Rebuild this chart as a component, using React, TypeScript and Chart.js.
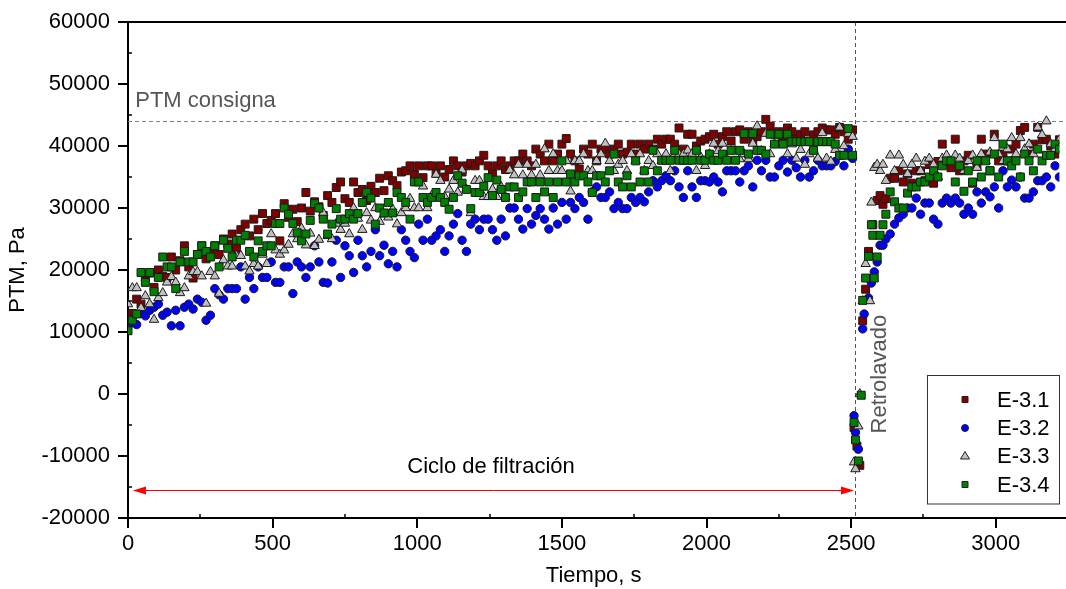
import React, { useEffect, useRef } from 'react';
import { Chart, registerables } from 'chart.js';

Chart.register(...registerables);

// ---------- DATA ----------
const SERIES_NAMES = ['E-3.1', 'E-3.2', 'E-3.3', 'E-3.4'];

// filtration cycle sampling times (s)
const FILT_TIME = [
  0, 15, 30, 45, 60, 75, 90, 105, 120, 135,
  150, 165, 180, 195, 210, 225, 240, 255, 270, 285,
  300, 315, 330, 345, 360, 375, 390, 405, 420, 435,
  450, 465, 480, 495, 510, 525, 540, 555, 570, 585,
  600, 615, 630, 645, 660, 675, 690, 705, 720, 735,
  750, 765, 780, 795, 810, 825, 840, 855, 870, 885,
  900, 915, 930, 945, 960, 975, 990, 1005, 1020, 1035,
  1050, 1065, 1080, 1095, 1110, 1125, 1140, 1155, 1170, 1185,
  1200, 1215, 1230, 1245, 1260, 1275, 1290, 1305, 1320, 1335,
  1350, 1365, 1380, 1395, 1410, 1425, 1440, 1455, 1470, 1485,
  1500, 1515, 1530, 1545, 1560, 1575, 1590, 1605, 1620, 1635,
  1650, 1665, 1680, 1695, 1710, 1725, 1740, 1755, 1770, 1785,
  1800, 1815, 1830, 1845, 1860, 1875, 1890, 1905, 1920, 1935,
  1950, 1965, 1980, 1995, 2010, 2025, 2040, 2055, 2070, 2085,
  2100, 2115, 2130, 2145, 2160, 2175, 2190, 2205, 2220, 2235,
  2250, 2265, 2280, 2295, 2310, 2325, 2340, 2355, 2370, 2385,
  2400, 2415, 2430, 2445, 2460, 2475, 2490, 2505,
];

const E31_FILT = [
  11500, 13000, 15300, 14500, 18800, 19500, 17200, 20000, 19000, 18800,
  22100, 20000, 21500, 23900, 20500, 18700, 22500, 23900, 21800, 22800,
  23900, 22500, 25000, 24200, 25800, 23500, 26500, 27400, 25500, 28200,
  26500, 29100, 27500, 28000, 29100, 24700, 30700, 28500, 29800, 27800,
  30000, 32500, 29500, 31000, 30200, 28800, 32000, 30900, 33300, 34200,
  31500, 30900, 34200, 32500, 33000, 31200, 33500, 32500, 34800, 32800,
  35200, 34400, 33600, 35800, 36000, 36800, 35400, 36800, 34900, 36800,
  36800, 35600, 36800, 35000, 36200, 37600, 36800, 35800, 36800, 37200,
  36800, 37600, 38500, 36800, 35500, 36800, 37600, 36200, 36800, 37600,
  37600, 38700, 37600, 36800, 39500, 38700, 37600, 40300, 37600, 38700,
  40300, 41200, 38700, 37600, 36300, 39500, 38700, 40300, 37600, 39500,
  39500, 38700, 39500, 40300, 38700, 39000, 40300, 38700, 40300, 39500,
  40300, 39500, 41100, 40300, 41100, 41100, 40300, 42900, 39500, 41900,
  41900, 40000, 40800, 41100, 41500, 41900, 40300, 41500, 42300, 40800,
  42300, 42600, 41100, 42300, 40800, 41500, 42300, 44300, 43200, 41900,
  42300, 41500, 42900, 42300, 41100, 41900, 42300, 40800, 41800, 42300,
  42900, 42600, 42600, 41900, 43000, 42300, 41100, 42600,
];

const E32_FILT = [
  12000, 11500, 11200, 13000, 12600, 13500, 14000, 14500, 12700, 13200,
  11000, 13500, 11000, 14000, 14500, 13700, 15300, 14800, 11900, 12700,
  17000, 16000, 15300, 17000, 17000, 17000, 20500, 15300, 18800, 17000,
  20500, 18800, 18800, 21300, 18000, 18000, 20500, 20500, 16200, 21300,
  20500, 18800, 20500, 23900, 21300, 18000, 17900, 21300, 24800, 18800,
  23900, 22300, 19600, 24800, 22300, 20500, 23000, 26500, 22300, 24000,
  21000, 23000, 20500, 26500, 24800, 23000, 22000, 27400, 24800, 28200,
  24800, 25500, 26500, 23000, 25500, 27400, 29100, 24800, 23000, 27400,
  28200, 26500, 28200, 28200, 26500, 24800, 28200, 25500, 30000, 30000,
  28200, 26600, 29900, 27400, 28800, 29900, 28200, 26600, 30000, 27400,
  30900, 28200, 30900, 29900, 31700, 30900, 28200, 32600, 33400, 31700,
  31700, 32600, 29900, 30900, 29900, 29900, 31700, 30900, 31700, 31000,
  32600, 34400, 33400, 34400, 35200, 34400, 36000, 33400, 31700, 36000,
  33400, 31700, 34400, 34400, 34200, 35000, 34200, 32600, 36000, 36000,
  36000, 34200, 36000, 36800, 33400, 37700, 36000, 37700, 35000, 35000,
  36800, 37700, 35800, 37700, 36500, 35000, 37700, 35000, 36000, 37700,
  36800, 36800, 36800, 37500, 38500, 36800, 39500, 38000,
];

const E33_FILT = [
  14500, 17100, 17100, 13900, 15800, 14500, 12000, 15500, 16300, 18000,
  18900, 18000, 16300, 17100, 19000, 19700, 19700, 19000, 14600, 19700,
  19000, 16200, 21600, 20600, 20600, 22300, 22300, 20600, 19800, 21000,
  20600, 22500, 21000, 25800, 23200, 22500, 23200, 24100, 25800, 25000,
  26700, 24000, 25900, 23900, 24900, 29200, 25500, 25000, 27500, 26500,
  27500, 25800, 30000, 28300, 26500, 29200, 28000, 30000, 27800, 29000,
  28500, 29800, 27400, 29200, 30000, 31500, 30000, 30000, 33500, 30000,
  32000, 35400, 34400, 31800, 33000, 34400, 32500, 36100, 33000, 29200,
  34400, 34400, 31800, 31800, 33000, 31800, 33400, 31800, 36100, 35300,
  37000, 35300, 37000, 35300, 37000, 35300, 39500, 36000, 38700, 36000,
  36000, 37600, 32700, 37600, 37600, 38700, 36000, 36000, 37600, 38700,
  40400, 37600, 36000, 37000, 37600, 36000, 38700, 37600, 38700, 36000,
  37600, 36800, 38700, 37600, 38700, 36000, 38700, 38700, 38700, 39300,
  38700, 36000, 38200, 36800, 38700, 40400, 39200, 40400, 37900, 39200,
  39200, 37900, 38700, 37900, 40400, 43200, 39200, 42000, 38700, 40300,
  40300, 40300, 38700, 40300, 38000, 39400, 37000, 38700, 39400, 38000,
  42100, 38000, 37500, 39400, 43000, 40000, 42000, 41500,
];

const E34_FILT = [
  10200, 11900, 12900, 19600, 18000, 19600, 16500, 18800, 22100, 20500,
  20500, 17000, 21300, 23000, 21300, 21300, 22500, 23900, 23000, 22100,
  23900, 20500, 24800, 23500, 22100, 24800, 24800, 25600, 23000, 22100,
  24700, 23000, 23900, 23900, 27500, 27500, 30000, 29000, 27500, 26000,
  24700, 25800, 28000, 30700, 30000, 28200, 25800, 27400, 29900, 28200,
  28200, 29100, 28200, 29100, 30900, 32500, 31600, 27400, 30000, 29200,
  30900, 29200, 32500, 31700, 30900, 28200, 34200, 34200, 31700, 30900,
  31700, 32500, 31700, 30900, 29800, 31700, 35200, 34000, 33000, 29900,
  32500, 32500, 33500, 34900, 32000, 34500, 33000, 31700, 33400, 33400,
  31700, 32600, 34200, 34200, 31700, 34200, 32600, 34200, 31700, 34200,
  37600, 34200, 35500, 34200, 35200, 35200, 34200, 32500, 35200, 35200,
  34200, 36000, 38700, 34200, 33400, 35200, 33400, 37600, 34200, 36000,
  34200, 39300, 36000, 37700, 37700, 37700, 39300, 37700, 37700, 37700,
  37700, 39300, 37700, 37700, 38700, 37700, 37700, 38700, 37700, 39300,
  37700, 39300, 42000, 38700, 42000, 39300, 39300, 38700, 41900, 40300,
  41900, 40300, 41900, 40700, 40700, 40700, 40700, 40700, 39300, 40700,
  40700, 40700, 40700, 40300, 38500, 38500, 42800, 38500,
];

// backwash and following cycle sampling times (s)
const POST_TIME = [
  2510, 2515, 2520, 2525, 2530, 2535, 2540, 2545, 2550, 2555,
  2560, 2565, 2570, 2575, 2580, 2590, 2600, 2610, 2620,
  2635, 2650, 2665, 2680, 2695, 2710, 2725, 2740, 2755, 2770,
  2785, 2800, 2815, 2830, 2845, 2860, 2875, 2890, 2905, 2920,
  2935, 2950, 2965, 2980, 2995, 3010, 3025, 3040, 3055, 3070,
  3085, 3100, 3115, 3130, 3145, 3160, 3175, 3190, 3205, 3220,
];

const E31_POST = [
  -5400, null, -8400, null, -11500, null, 11800, null, 16900, null,
  23000, null, null, 27300, null, 31200, 32000, 30600, 31500,
  34800, 34800, 36000, 34200, 35500, 34000, 36000, 36000, 34400, 37000,
  34000, 37500, 40300, 37600, 36500, 41100, 36000, 37600, 38500, 34000,
  36800, 41100, 38700, 36000, 41900, 37600, 38700, 37600, 39500, 40300,
  42500, 43000, 38700, 40300, 43000, 41000, 41100, 40000, 38700, 41000,
];

const E32_POST = [
  -3500, -6200, null, -8900, null, null, 10500, 12900, null, null,
  15500, null, 17900, null, 19700, 21300, 24000, 24000, 25000,
  25800, 27400, 28400, 29000, 30000, 30000, 31600, 29000, 30800, 30800,
  28200, 27400, 30800, 31600, 30800, 31600, 30800, 29000, 30000, 29000,
  32600, 30800, 32600, 31800, 33400, 30000, 36000, 33400, 34500, 33400,
  35000, 31600, 31600, 32600, 34400, 34400, 35000, 33400, 36800, 35000,
];

const E33_POST = [
  -11000, -12100, null, -5200, 0, null, 15000, null, 21000, null,
  null, 15000, 30900, null, 36500, 37000, 36000, 37000, 34400,
  38500, 36000, 38500, 37000, 35500, 37000, 38000, 36000, 37500, 38000,
  37000, 35000, 38000, 38500, 37500, 38500, 38000, 36000, 37600, 38500,
  36500, 38700, 37600, 39000, 41300, 38700, 37600, 39500, 41300, 38700,
  41300, 39500, 40300, 38700, 43000, 41800, 44000, 40300, 39500, 41000,
];

const E34_POST = [
  -4600, -7400, null, -10800, null, -200, 15100, null, 18700, null,
  22200, null, 27300, 25600, 18700, 22100, 25600, 27300, 29000,
  32600, 31000, 30000, 30000, 32400, 33400, 33400, 34200, 34200, 35000,
  36000, 35000, 36800, 37600, 37600, 34200, 36800, 32700, 36000, 34200,
  37600, 35000, 37600, 36000, 38700, 35000, 40300, 37600, 36800, 37600,
  35000, 38700, 37600, 36000, 39500, 37600, 38500, 38500, 40300, 39500,
];

const X_TICKS = [0, 500, 1000, 1500, 2000, 2500, 3000];
const X_MINOR = [250, 750, 1250, 1750, 2250, 2750];
const Y_TICKS = [-20000, -10000, 0, 10000, 20000, 30000, 40000, 50000, 60000];
const Y_MINOR = [-15000, -5000, 5000, 15000, 25000, 35000, 45000, 55000];

const SETPOINT = 44000; // PTM consigna
const BACKWASH_T = 2515; // backwash start
const ARROW_START = 17;
const ARROW_END = 2510;
const ARROW_Y = -15500;

// ---------- STYLE ----------
const FONT = '"Liberation Sans", Arial, Helvetica, sans-serif';
const FS = 22;
const STYLES = [
  { pointStyle: 'rect', radius: 5.6, color: '#800000', order: 4 },
  { pointStyle: 'circle', radius: 4.2, color: '#0000ff', order: 3 },
  { pointStyle: 'triangle', radius: 5.4, color: '#c0c0c0', order: 2 },
  { pointStyle: 'rect', radius: 5.6, color: '#008000', order: 1 },
];

function toPoints(times: number[], vals: (number | null)[]) {
  const out: { x: number; y: number }[] = [];
  const n = Math.min(times.length, vals.length);
  for (let i = 0; i < n; i++) {
    const v = vals[i];
    if (v !== null && v !== undefined) out.push({ x: times[i], y: v });
  }
  return out;
}

function legendMarker(ctx: CanvasRenderingContext2D, kind: string, cx: number, cy: number, color: string) {
  ctx.save();
  ctx.fillStyle = color;
  ctx.strokeStyle = '#222';
  ctx.lineWidth = 1;
  ctx.beginPath();
  if (kind === 'rect') {
    ctx.rect(cx - 3, cy - 3, 6, 6);
  } else if (kind === 'circle') {
    ctx.arc(cx, cy, 3.5, 0, Math.PI * 2);
  } else {
    ctx.moveTo(cx, cy - 4.5);
    ctx.lineTo(cx + 4.5, cy + 3);
    ctx.lineTo(cx - 4.5, cy + 3);
    ctx.closePath();
  }
  ctx.fill();
  ctx.stroke();
  ctx.restore();
}

const annotPlugin = {
  id: 'annot',
  beforeDatasetsDraw(chart: any) {
    const { ctx, chartArea, scales } = chart;
    const x = scales.x;
    const y = scales.y;
    ctx.save();
    // setpoint dashed line
    ctx.strokeStyle = '#808080';
    ctx.lineWidth = 1;
    ctx.setLineDash([4, 3]);
    const ys = Math.round(y.getPixelForValue(SETPOINT)) + 0.5;
    ctx.beginPath();
    ctx.moveTo(chartArea.left, ys);
    ctx.lineTo(chart.width, ys);
    ctx.stroke();
    // backwash dashed line
    ctx.strokeStyle = '#555';
    const xb = Math.round(x.getPixelForValue(BACKWASH_T)) + 0.5;
    ctx.beginPath();
    ctx.moveTo(xb, chartArea.top);
    ctx.lineTo(xb, chartArea.bottom);
    ctx.stroke();
    ctx.setLineDash([]);
    // double arrow
    const ya = Math.round(y.getPixelForValue(ARROW_Y)) + 0.5;
    const xa0 = x.getPixelForValue(ARROW_START);
    const xa1 = x.getPixelForValue(ARROW_END);
    ctx.strokeStyle = '#ff0000';
    ctx.fillStyle = '#ff0000';
    ctx.lineWidth = 1;
    ctx.beginPath();
    ctx.moveTo(xa0 + 8, ya);
    ctx.lineTo(xa1 - 8, ya);
    ctx.stroke();
    ctx.beginPath();
    ctx.moveTo(xa0, ya);
    ctx.lineTo(xa0 + 13, ya - 4);
    ctx.lineTo(xa0 + 13, ya + 4);
    ctx.closePath();
    ctx.fill();
    ctx.beginPath();
    ctx.moveTo(xa1, ya);
    ctx.lineTo(xa1 - 13, ya - 4);
    ctx.lineTo(xa1 - 13, ya + 4);
    ctx.closePath();
    ctx.fill();
    ctx.restore();
  },
  afterDraw(chart: any) {
    const { ctx, chartArea, scales } = chart;
    const x = scales.x;
    const y = scales.y;
    ctx.save();
    // top frame line
    ctx.strokeStyle = '#000';
    ctx.lineWidth = 2;
    ctx.beginPath();
    ctx.moveTo(chartArea.left - 1, chartArea.top);
    ctx.lineTo(chart.width, chartArea.top);
    ctx.stroke();
    // bottom axis extends to the page edge
    ctx.beginPath();
    ctx.moveTo(chartArea.right, chartArea.bottom);
    ctx.lineTo(chart.width, chartArea.bottom);
    ctx.stroke();
    // minor ticks (inside)
    ctx.lineWidth = 1.5;
    X_MINOR.forEach((v) => {
      const px = Math.round(x.getPixelForValue(v));
      ctx.beginPath();
      ctx.moveTo(px, chartArea.bottom);
      ctx.lineTo(px, chartArea.bottom - 4);
      ctx.stroke();
    });
    Y_MINOR.forEach((v) => {
      const py = Math.round(y.getPixelForValue(v));
      ctx.beginPath();
      ctx.moveTo(chartArea.left, py);
      ctx.lineTo(chartArea.left + 4, py);
      ctx.stroke();
    });
    // texts
    ctx.font = `${FS}px ${FONT}`;
    ctx.textBaseline = 'middle';
    ctx.fillStyle = '#555';
    ctx.textAlign = 'left';
    ctx.fillText('PTM consigna', x.getPixelForValue(25), y.getPixelForValue(47300));
    ctx.fillStyle = '#000';
    ctx.textAlign = 'center';
    ctx.fillText('Ciclo de filtración', x.getPixelForValue(1255), y.getPixelForValue(-11800));
    ctx.save();
    ctx.translate(x.getPixelForValue(2600), y.getPixelForValue(3200));
    ctx.rotate(-Math.PI / 2);
    ctx.fillStyle = '#555';
    ctx.textAlign = 'center';
    ctx.fillText('Retrolavado', 0, 0);
    ctx.restore();
    // legend
    const bx = 927.5, by = 375.5, bw = 132, bh = 128.5;
    ctx.fillStyle = '#fff';
    ctx.fillRect(bx, by, bw, bh);
    ctx.strokeStyle = '#333';
    ctx.lineWidth = 1;
    ctx.strokeRect(bx, by, bw, bh);
    const rows = [399.5, 428, 456, 484.5];
    SERIES_NAMES.forEach((name, i) => {
      legendMarker(ctx, STYLES[i].pointStyle, 965, rows[i], STYLES[i].color);
      ctx.fillStyle = '#000';
      ctx.textAlign = 'left';
      ctx.textBaseline = 'middle';
      ctx.font = `${FS}px ${FONT}`;
      ctx.fillText(name, 997, rows[i] + 1);
    });
    ctx.restore();
  },
};

export default function App() {
  const ref = useRef<HTMLCanvasElement>(null);

  useEffect(() => {
    const seriesData = [
      [...toPoints(FILT_TIME, E31_FILT), ...toPoints(POST_TIME, E31_POST)],
      [...toPoints(FILT_TIME, E32_FILT), ...toPoints(POST_TIME, E32_POST)],
      [...toPoints(FILT_TIME, E33_FILT), ...toPoints(POST_TIME, E33_POST)],
      [...toPoints(FILT_TIME, E34_FILT), ...toPoints(POST_TIME, E34_POST)],
    ];
    const datasets = SERIES_NAMES.map((name, i) => ({
      label: name,
      data: seriesData[i],
      order: STYLES[i].order,
      pointStyle: STYLES[i].pointStyle as any,
      pointRadius: STYLES[i].radius,
      pointHoverRadius: STYLES[i].radius,
      backgroundColor: STYLES[i].color,
      borderColor: '#1a1a1a',
      pointBorderWidth: 1,
      borderWidth: 1,
      showLine: false,
    }));

    const chart = new Chart(ref.current as HTMLCanvasElement, {
      type: 'scatter',
      data: { datasets },
      plugins: [annotPlugin],
      options: {
        animation: false,
        responsive: false,
        maintainAspectRatio: false,
        events: [],
        layout: { padding: { top: 22, right: 2, bottom: 0, left: 0 } },
        plugins: {
          legend: { display: false },
          tooltip: { enabled: false },
        },
        scales: {
          x: {
            type: 'linear',
            position: 'bottom',
            min: 0,
            max: 3220,
            afterFit: (s: any) => {
              s.height = 71;
            },
            afterBuildTicks: (s: any) => {
              s.ticks = X_TICKS.map((v) => ({ value: v }));
            },
            ticks: {
              autoSkip: false,
              maxRotation: 0,
              padding: 3,
              color: '#000',
              font: { family: FONT, size: FS },
              callback: (v: any) => String(v),
            },
            grid: {
              drawOnChartArea: false,
              drawTicks: true,
              tickLength: 10,
              color: '#000',
              lineWidth: 2,
            },
            border: { display: true, color: '#000', width: 2 },
            title: {
              display: true,
              text: 'Tiempo, s',
              color: '#000',
              font: { family: FONT, size: FS },
              padding: { top: 0, bottom: 0 },
            },
          },
          y: {
            type: 'linear',
            min: -20000,
            max: 60000,
            afterFit: (s: any) => {
              s.width = 128;
            },
            afterBuildTicks: (s: any) => {
              s.ticks = Y_TICKS.map((v) => ({ value: v }));
            },
            ticks: {
              padding: 8,
              color: '#000',
              font: { family: FONT, size: FS },
              callback: (v: any) => String(v),
            },
            grid: {
              drawOnChartArea: false,
              drawTicks: true,
              tickLength: 10,
              color: '#000',
              lineWidth: 2,
            },
            border: { display: true, color: '#000', width: 2 },
            title: {
              display: true,
              text: 'PTM, Pa',
              color: '#000',
              font: { family: FONT, size: FS },
              padding: { top: 5, bottom: 0 },
            },
          },
        },
      },
    });
    return () => chart.destroy();
  }, []);

  return (
    <div style={{ position: 'absolute', left: 0, top: 0, width: 1066, height: 589, background: '#fff' }}>
      <canvas ref={ref} width={1066} height={589} style={{ display: 'block', width: 1066, height: 589 }} />
    </div>
  );
}
